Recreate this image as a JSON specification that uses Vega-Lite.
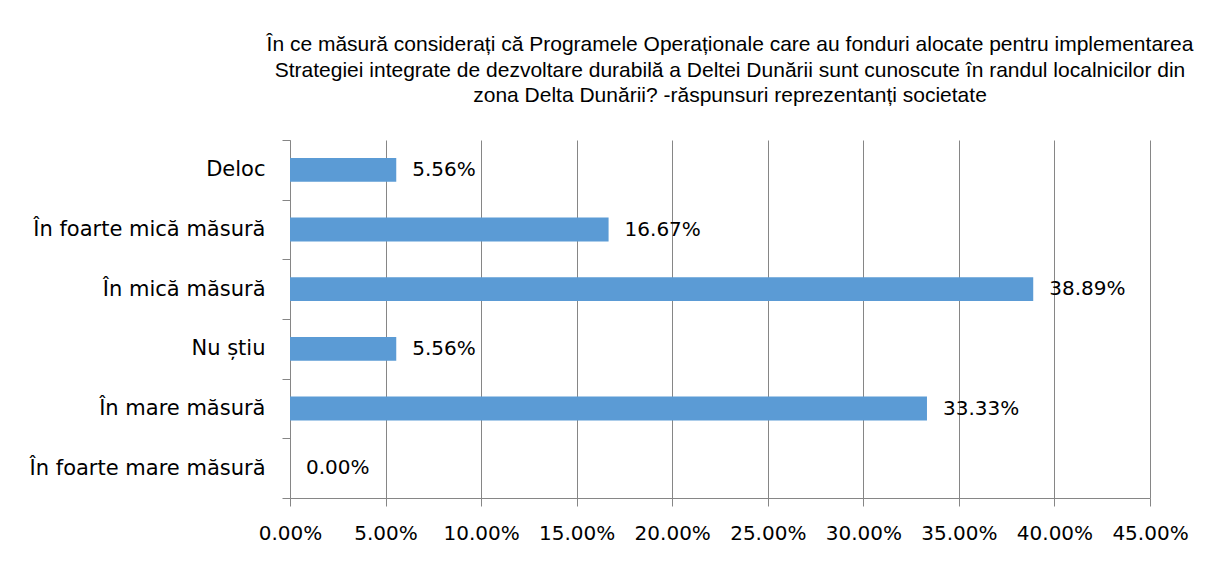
{
  "$schema": "https://vega.github.io/schema/vega-lite/v6.json",
  "width": 860,
  "height": 358,
  "autosize": {"type": "none"},
  "padding": {"left": 290, "top": 140, "right": 57, "bottom": 63},
  "background": "white",
  "title": {
    "text": [
      "În ce măsură considerați că Programele Operaționale care au fonduri alocate pentru implementarea",
      "Strategiei integrate de dezvoltare durabilă a Deltei Dunării sunt cunoscute în randul localnicilor din",
      "zona Delta Dunării? -răspunsuri reprezentanți societate"
    ],
    "anchor": "middle",
    "dx": 10,
    "offset": 23,
    "font": "Liberation Sans",
    "fontSize": 21,
    "fontWeight": "normal",
    "lineHeight": 25.5,
    "color": "#000000"
  },
  "data": {
    "values": [
      {"category": "Deloc", "value": 0.0556},
      {"category": "În foarte mică măsură", "value": 0.1667},
      {"category": "În mică măsură", "value": 0.3889},
      {"category": "Nu știu", "value": 0.0556},
      {"category": "În mare măsură", "value": 0.3333},
      {"category": "În foarte mare măsură", "value": 0.0}
    ]
  },
  "encoding": {
    "y": {
      "field": "category",
      "type": "nominal",
      "sort": null,
      "title": null,
      "scale": {"paddingInner": 0, "paddingOuter": 0},
      "axis": {
        "tickBand": "extent",
        "tickSize": 8,
        "tickColor": "#868686",
        "domainColor": "#868686",
        "labelPadding": 17,
        "labelLimit": 0,
        "labelFont": "DejaVu Sans",
        "labelFontSize": 21,
        "labelColor": "#000000",
        "grid": false
      }
    },
    "x": {
      "field": "value",
      "type": "quantitative",
      "title": null,
      "scale": {"domain": [0, 0.45], "nice": false},
      "axis": {
        "values": [0, 0.05, 0.1, 0.15, 0.2, 0.25, 0.3, 0.35, 0.4, 0.45],
        "format": ".2%",
        "grid": true,
        "gridColor": "#868686",
        "gridOpacity": 1,
        "tickSize": 8,
        "tickColor": "#868686",
        "domainColor": "#868686",
        "labelPadding": 17,
        "labelFont": "DejaVu Sans",
        "labelFontSize": 20,
        "labelColor": "#000000",
        "labelFlush": false
      }
    }
  },
  "layer": [
    {"mark": {"type": "bar", "color": "#5B9BD5", "height": {"band": 0.4}}},
    {
      "mark": {"type": "text", "align": "left", "dx": 16, "font": "DejaVu Sans", "fontSize": 20, "color": "#000000"},
      "encoding": {"text": {"field": "value", "type": "quantitative", "format": ".2%"}}
    }
  ],
  "config": {"view": {"stroke": null}}
}
